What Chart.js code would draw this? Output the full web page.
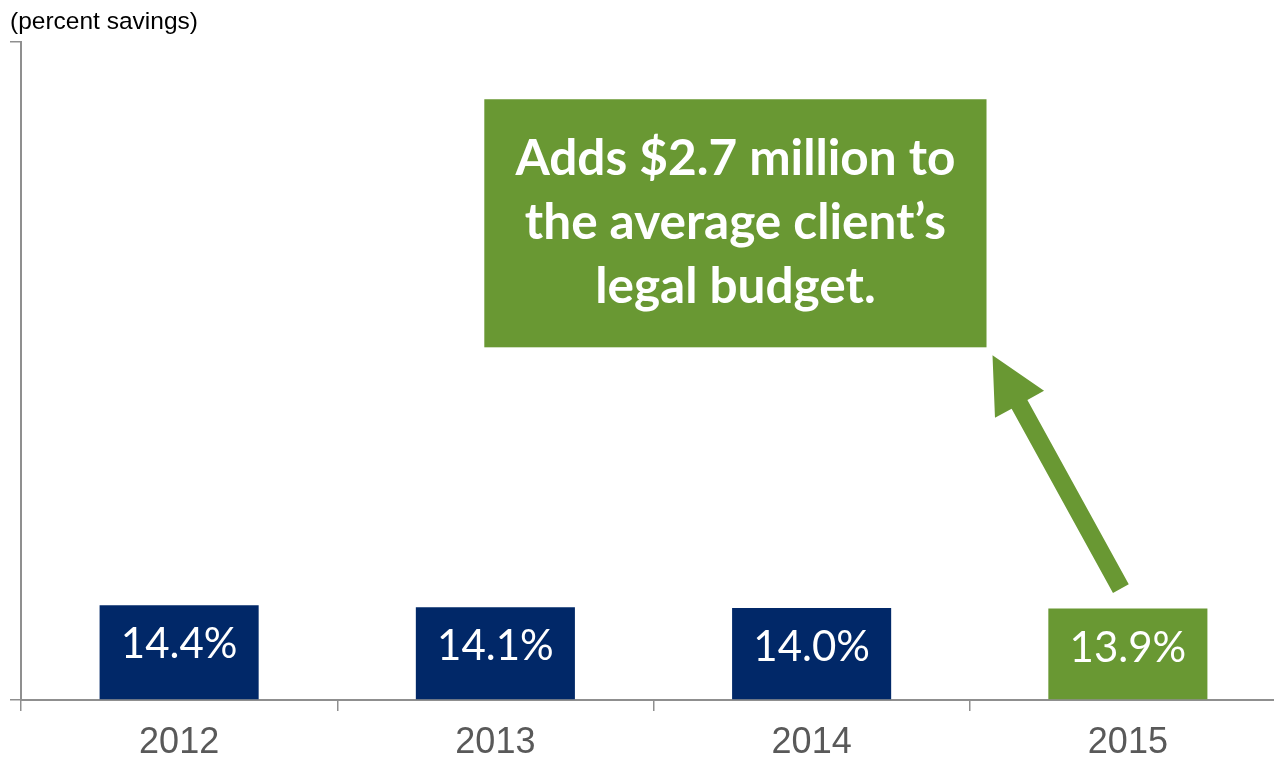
<!DOCTYPE html>
<html>
<head>
<meta charset="utf-8">
<script src="https://cdn.jsdelivr.net/npm/chart.js@4/dist/chart.umd.min.js"></script>
<style>
  html, body { margin: 0; padding: 0; background: #fff; overflow: hidden; }
  #wrap { width: 1274px; height: 760px; overflow: hidden; }
</style>
</head>
<body>
<div id="wrap"><canvas id="chart" width="1286" height="760"></canvas></div>
<script>
// savings per year, last year highlighted in green
const years = ['2012', '2013', '2014', '2015'];
const savings = [14.4, 14.1, 14.0, 13.9];
const barColors = ['#012868', '#012868', '#012868', '#699833'];
const yRange = [0, 100];
const yStep = 100;
const calloutLines = ['Adds $2.7 million to', 'the average client\u2019s', 'legal budget.'];

const axisGray = '#8f8f8f';
const green = '#699833';

// callout box placed in scale units (category index / percent)
const callout = { xMin: 0.965, xMax: 2.553, yMin: 53.6, yMax: 91.3 };

const barLabels = {
  id: 'barLabels',
  afterDatasetsDraw(chart) {
    const ctx = chart.ctx;
    const meta = chart.getDatasetMeta(0);
    ctx.save();
    ctx.fillStyle = '#fff';
    ctx.font = '42px Lato';
    ctx.textAlign = 'center';
    ctx.textBaseline = 'alphabetic';
    meta.data.forEach((bar, i) => {
      ctx.fillText(savings[i].toFixed(1) + '%', bar.x, bar.y + 53);
    });
    ctx.restore();
  }
};

const calloutBox = {
  id: 'calloutBox',
  afterDatasetsDraw(chart) {
    const ctx = chart.ctx;
    const x = chart.scales.x, y = chart.scales.y;
    const left = x.getPixelForValue(callout.xMin);
    const right = x.getPixelForValue(callout.xMax);
    const top = y.getPixelForValue(callout.yMax);
    const bottom = y.getPixelForValue(callout.yMin);

    ctx.save();
    ctx.fillStyle = green;
    ctx.fillRect(left, top, right - left, bottom - top);

    ctx.fillStyle = '#fff';
    ctx.font = 'bold 49.5px Lato';
    ctx.textAlign = 'center';
    ctx.textBaseline = 'alphabetic';
    const cx = (left + right) / 2;
    calloutLines.forEach((line, i) => {
      ctx.fillText(line, cx, top + 76 + i * 64);
    });

    // arrow from the last bar up to the box corner
    const last = chart.getDatasetMeta(0).data[savings.length - 1];
    const tx = last.x - 7, ty = last.y - 20;
    const hx = right + 6, hy = bottom + 8;
    const ang = Math.atan2(hy - ty, hx - tx);
    const len = Math.hypot(hx - tx, hy - ty);
    const shaft = 9, headHalf = 28, headLen = 56;
    ctx.translate(tx, ty);
    ctx.rotate(ang);
    ctx.beginPath();
    ctx.moveTo(0, -shaft);
    ctx.lineTo(len - headLen, -shaft);
    ctx.lineTo(len - headLen, -headHalf);
    ctx.lineTo(len, 0);
    ctx.lineTo(len - headLen, headHalf);
    ctx.lineTo(len - headLen, shaft);
    ctx.lineTo(0, shaft);
    ctx.closePath();
    ctx.fillStyle = green;
    ctx.fill();
    ctx.restore();
  }
};

new Chart(document.getElementById('chart'), {
  type: 'bar',
  data: {
    labels: years,
    datasets: [{
      data: savings,
      backgroundColor: barColors,
      borderWidth: 0,
      categoryPercentage: 1,
      barPercentage: 0.503
    }]
  },
  options: {
    responsive: false,
    animation: false,
    layout: { padding: { left: 10, right: 0, top: 0, bottom: 0 } },
    plugins: {
      legend: { display: false },
      tooltip: { enabled: false },
      title: {
        display: true,
        text: '(percent savings)',
        align: 'start',
        color: '#000',
        font: { family: 'Liberation Sans', size: 24.5, weight: 'normal' },
        padding: { top: 8, bottom: 4.6 }
      }
    },
    scales: {
      x: {
        grid: {
          offset: true,
          drawOnChartArea: false,
          drawTicks: true,
          tickLength: 11,
          color: axisGray,
          lineWidth: 1.5
        },
        border: { display: true, color: axisGray, width: 2 },
        ticks: {
          color: '#595959',
          font: { family: 'Liberation Sans', size: 36 },
          padding: 10,
          maxRotation: 0
        },
        afterFit(scale) { scale.height = 60; }
      },
      y: {
        min: yRange[0],
        max: yRange[1],
        grid: {
          drawOnChartArea: false,
          drawTicks: true,
          tickLength: 11,
          color: axisGray,
          lineWidth: 1.5
        },
        border: { display: true, color: axisGray, width: 2 },
        ticks: { display: false, stepSize: yStep },
        afterFit(scale) { scale.width = 11; }
      }
    }
  },
  plugins: [barLabels, calloutBox]
});
</script>
</body>
</html>
